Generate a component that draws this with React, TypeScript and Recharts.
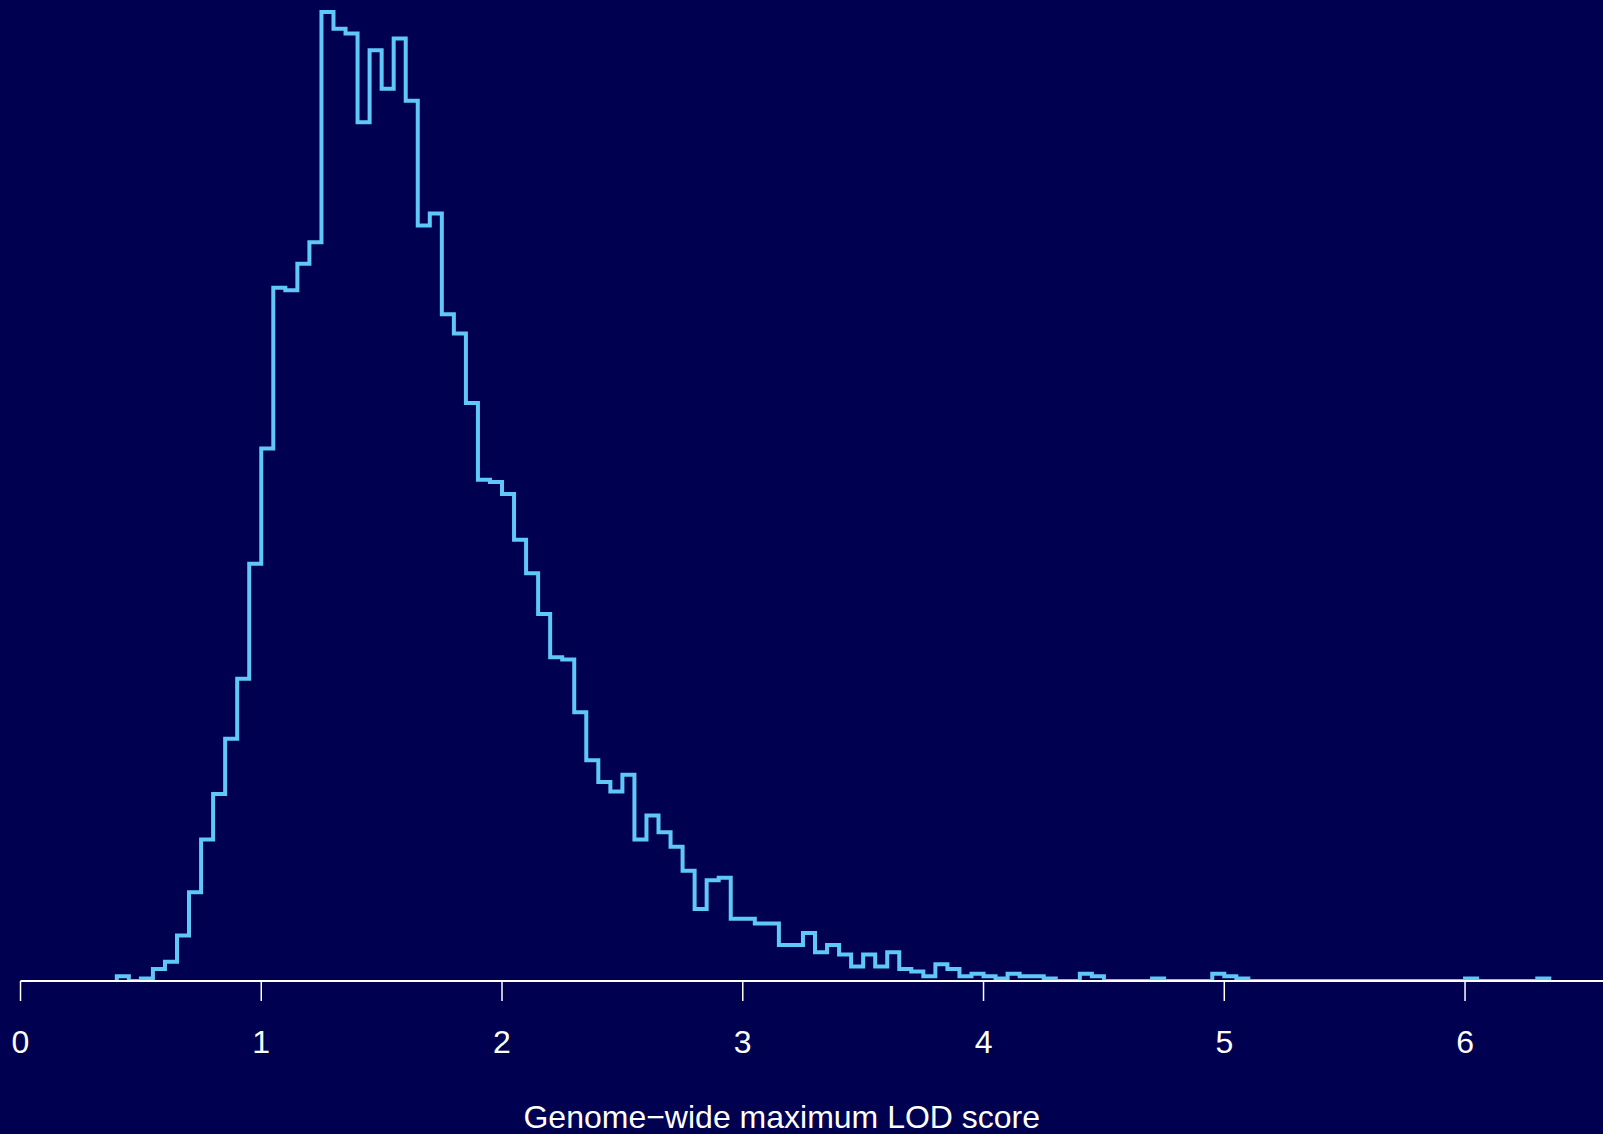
import { LineChart, Line, XAxis, YAxis } from "recharts";

// histogram of genome-wide max LOD scores, bins of 0.05 starting at 0.40
const binStart = 0.4;
const binWidth = 0.05;
const counts = [
  2, 0, 1, 5, 8, 19, 37, 59, 78, 101,
  126, 174, 222, 289, 288, 299, 308, 404, 397, 395,
  358, 388, 372, 393, 367, 315, 320, 278, 270, 241,
  209, 208, 203, 184, 170, 153, 135, 134, 112, 92,
  83, 79, 86, 59, 69, 62, 56, 46, 30, 42,
  43, 26, 26, 24, 24, 15, 15, 20, 12, 15,
  11, 6, 11, 6, 12, 5, 4, 2, 7, 5,
  2, 3, 2, 1, 3, 2, 2, 1, 0, 0,
  3, 2, 0, 0, 0, 0, 1, 0, 0, 0,
  0, 3, 2, 1, 0, 0, 0, 0, 0, 0,
  0, 0, 0, 0, 0, 0, 0, 0, 0, 0,
  0, 0, 1, 0, 0, 0, 0, 0, 1,
];
const xTicks = [0, 1, 2, 3, 4, 5, 6];
const xLabel = "Genome\u2212wide maximum LOD score";

const bg = "#000050";
const lineColor = "#5fc8f8";
const font = "'Liberation Sans', Arial, Helvetica, sans-serif";

// step outline: start at zero, one point per bin left edge, back to zero at the end
const steps = [
  { x: binStart, y: 0 },
  ...counts.map((c, i) => ({ x: +(binStart + i * binWidth).toFixed(2), y: c })),
  { x: +(binStart + counts.length * binWidth).toFixed(2), y: 0 },
];

const renderTitle = (props: any) => {
  const { viewBox } = props;
  const cx = viewBox.x + viewBox.width / 2 - 30;
  return (
    <text x={cx} y={1128} fill="#ffffff" textAnchor="middle" fontSize={32} fontFamily={font}>
      {xLabel}
    </text>
  );
};

export default function App() {
  return (
    <div style={{ position: "absolute", left: 0, top: 0, width: 1603, height: 1134, background: bg, overflow: "hidden" }}>
      <LineChart
        width={1603}
        height={1134}
        data={steps}
        margin={{ top: 0, right: 0, left: 20.5, bottom: 0 }}
      >
        <XAxis
          dataKey="x"
          type="number"
          domain={[0, 6.573]}
          ticks={xTicks}
          allowDataOverflow
          height={153}
          stroke="#ffffff"
          strokeWidth={2}
          tickSize={20}
          tickMargin={29}
          tickLine={{ stroke: "#ffffff", strokeWidth: 1.5 }}
          tick={{ fill: "#ffffff", fontSize: 32, fontFamily: font }}
          label={{ content: renderTitle }}
        />
        <YAxis hide domain={[0, 409]} allowDataOverflow />
        <Line
          type="stepAfter"
          dataKey="y"
          stroke={lineColor}
          strokeWidth={4}
          dot={false}
          isAnimationActive={false}
        />
      </LineChart>
    </div>
  );
}
